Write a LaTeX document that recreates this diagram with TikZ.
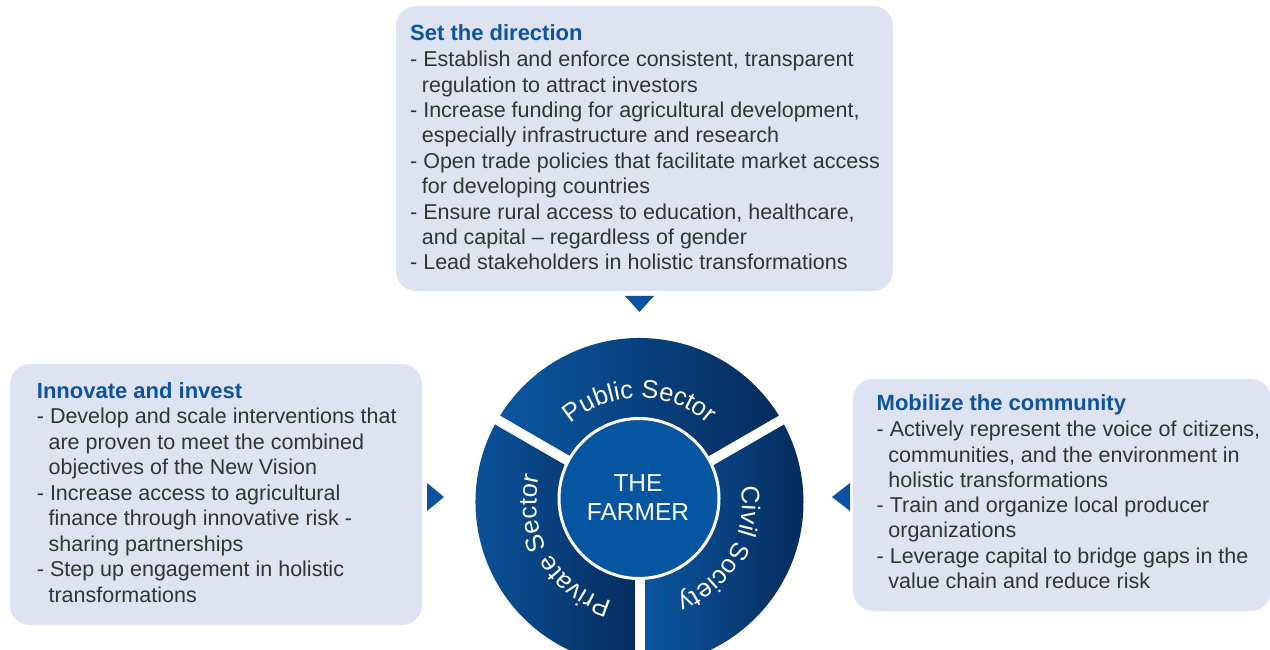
\documentclass[tikz,border=0pt]{standalone}
\usepackage{fontspec}
\setmainfont{Liberation Sans}
\usetikzlibrary{decorations.text}
\definecolor{boxfill}{HTML}{DDE3F0}
\definecolor{titleblue}{HTML}{0D53A0}
\definecolor{bodytext}{HTML}{333333}
\definecolor{tri}{HTML}{0B52A0}
\definecolor{ringL}{HTML}{0B57A2}
\definecolor{ringR}{HTML}{052B5C}
\definecolor{innerblue}{HTML}{0655A0}
\newcommand\ind{\hspace*{11.7pt}}
\newcommand\ringfont{\fontsize{25.5}{30}\selectfont\color{white}}
\tikzset{
  panel/.style={fill=boxfill, rounded corners=20pt, inner sep=0pt, draw=none},
  ttl/.style={font=\bfseries\fontsize{22}{26}\selectfont, text=titleblue, inner sep=0pt, anchor=base west},
  body/.style={font=\fontsize{21.5}{25}\selectfont, text=bodytext, inner sep=0pt, anchor=base west},
  pointer/.style={fill=tri, draw=none},
  sector/.style={left color=ringL, right color=ringR, draw=none},
  gap/.style={draw=white, line width=10pt},
  ringtext/.style={decorate, decoration={text along path, text align=center, text={|\ringfont|#1}}},
  farmertext/.style={font=\fontsize{24.5}{28}\selectfont, text=white, inner sep=0pt, anchor=base}
}
\begin{document}
\begin{tikzpicture}[x=1pt,y=1pt]
\useasboundingbox (0,0) rectangle (1270,649);
\clip (0,0) rectangle (1270,649);

% panels
\node[panel, minimum width=497pt, minimum height=285pt] (toppanel) at (644.5,500.5) {};
\node[panel, minimum width=412pt, minimum height=261pt] (leftpanel) at (216,154.5) {};
\node[panel, minimum width=418pt, minimum height=232pt] (rightpanel) at (1062,154) {};

% top panel text
\node[ttl] (toptitle) at (410,608.3) {Set the direction};
\foreach \t [count=\i from 0] in {
  {- Establish and enforce consistent, transparent},
  {\ind regulation to attract investors},
  {- Increase funding for agricultural development,},
  {\ind especially infrastructure and research},
  {- Open trade policies that facilitate market access},
  {\ind for developing countries},
  {- Ensure rural access to education, healthcare,},
  {\ind and capital – regardless of gender},
  {- Lead stakeholders in holistic transformations}}{
  \node[body] (top-\i) at (410,582.3-\i*25.4) {\t};
}

% left panel text
\node[ttl] (lefttitle) at (36.7,251) {Innovate and invest};
\foreach \t [count=\i from 0] in {
  {- Develop and scale interventions that},
  {\ind are proven to meet the combined},
  {\ind objectives of the New Vision},
  {- Increase access to agricultural},
  {\ind finance through innovative risk -},
  {\ind sharing partnerships},
  {- Step up engagement in holistic},
  {\ind transformations}}{
  \node[body] (left-\i) at (36.7,225.5-\i*25.5) {\t};
}

% right panel text
\node[ttl] (righttitle) at (876.5,238.3) {Mobilize the community};
\foreach \t [count=\i from 0] in {
  {- Actively represent the voice of citizens,},
  {\ind communities, and the environment in},
  {\ind holistic transformations},
  {- Train and organize local producer},
  {\ind organizations},
  {- Leverage capital to bridge gaps in the},
  {\ind value chain and reduce risk}}{
  \node[body] (right-\i) at (876.5,212.3-\i*25.3) {\t};
}

% pointers
\path[pointer] (625,353) -- (654,353) -- (639.5,337) -- cycle;
\path[pointer] (427,166) -- (427,138) -- (444,152) -- cycle;
\path[pointer] (850,166) -- (850,138) -- (832,152) -- cycle;

% ring
\coordinate (c) at (639.5,147);
\path[sector] (c) -- ++(30:164) arc[start angle=30, end angle=150, radius=164] -- cycle;
\path[sector] (c) -- ++(150:164) arc[start angle=150, end angle=270, radius=164] -- cycle;
\path[sector] (c) -- ++(270:164) arc[start angle=270, end angle=390, radius=164] -- cycle;
\draw[gap] (c) -- ++(30:175);
\draw[gap] (c) -- ++(150:175);
\draw[gap] (c) -- ++(270:175);

\path[ringtext={Public Sector}] (c) ++(150:104) arc[start angle=150, end angle=30, radius=104];
\path[ringtext={Private Sector}] (c) ++(270:103) arc[start angle=270, end angle=150, radius=103];
\path[ringtext={Civil Society}] (c) ++(30:103) arc[start angle=30, end angle=-90, radius=103];

% centre
\node[circle, fill=innerblue, draw=white, line width=3pt, minimum size=160pt, inner sep=0pt] (farmer) at (639,150.5) {};
\node[farmertext] (farmer-a) at (638,157.3) {THE};
\node[farmertext] (farmer-b) at (638,129) {FARMER};
\end{tikzpicture}
\end{document}
